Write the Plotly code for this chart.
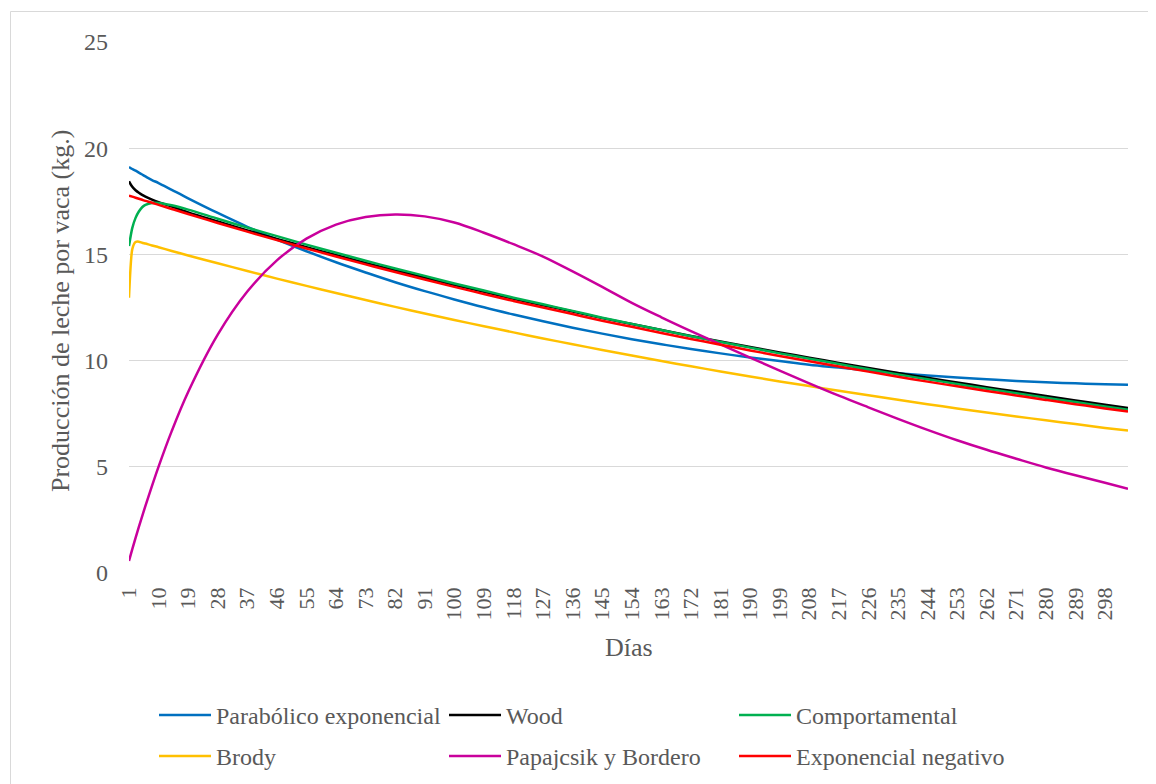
import plotly.graph_objects as go

days = [1, 2, 3, 4, 5, 6, 8, 10, 14, 19, 28, 37, 46, 55, 64, 73, 82, 91, 100, 109,
        118, 127, 136, 145, 154, 163, 172, 181, 190, 199, 208, 217, 226, 235, 244,
        253, 262, 271, 280, 289, 298, 305]

parabolico = [19.11, 19.02, 18.94, 18.85, 18.76, 18.67, 18.50, 18.36, 18.04, 17.64,
              16.95, 16.30, 15.70, 15.15, 14.63, 14.15, 13.69, 13.27, 12.88, 12.51,
              12.17, 11.85, 11.55, 11.27, 11.01, 10.77, 10.55, 10.34, 10.15, 9.98,
              9.81, 9.67, 9.53, 9.41, 9.30, 9.20, 9.12, 9.04, 8.98, 8.93, 8.89, 8.86]

wood = [18.44, 18.18, 18.02, 17.90, 17.80, 17.72, 17.58, 17.46, 17.25, 16.98,
        16.55, 16.13, 15.73, 15.34, 14.97, 14.60, 14.25, 13.90, 13.56, 13.24,
        12.91, 12.61, 12.31, 12.00, 11.72, 11.44, 11.16, 10.90, 10.64, 10.38,
        10.14, 9.89, 9.65, 9.42, 9.19, 8.97, 8.75, 8.54, 8.33, 8.12, 7.92, 7.77]

comportamental = [15.39, 16.25, 16.72, 17.02, 17.22, 17.33, 17.42, 17.42, 17.31, 17.11,
                  16.68, 16.26, 15.86, 15.46, 15.08, 14.70, 14.34, 13.99, 13.63, 13.30,
                  12.96, 12.65, 12.34, 12.02, 11.73, 11.44, 11.15, 10.88, 10.61, 10.34,
                  10.09, 9.84, 9.59, 9.35, 9.12, 8.90, 8.67, 8.46, 8.25, 8.05, 7.84, 7.69]

brody = [12.96, 15.25, 15.58, 15.60, 15.55, 15.51, 15.42, 15.34, 15.16, 14.95,
         14.58, 14.22, 13.86, 13.52, 13.18, 12.85, 12.53, 12.22, 11.91, 11.62,
         11.33, 11.04, 10.77, 10.50, 10.24, 9.98, 9.73, 9.49, 9.25, 9.02,
         8.80, 8.58, 8.37, 8.16, 7.95, 7.75, 7.56, 7.37, 7.19, 7.01, 6.83, 6.71]

papajcsik = [0.57, 1.12, 1.65, 2.17, 2.67, 3.16, 4.10, 5.01, 6.68, 8.52,
             11.22, 13.25, 14.72, 15.74, 16.40, 16.76, 16.88, 16.79, 16.50, 16.02,
             15.48, 14.90, 14.20, 13.47, 12.72, 12.04, 11.39, 10.76, 10.14, 9.53,
             8.93, 8.35, 7.80, 7.26, 6.74, 6.25, 5.80, 5.38, 4.97, 4.60, 4.25, 3.97]

exponencial = [17.77, 17.72, 17.67, 17.62, 17.57, 17.52, 17.43, 17.33, 17.14, 16.90,
               16.48, 16.07, 15.67, 15.28, 14.90, 14.53, 14.17, 13.82, 13.47, 13.14,
               12.81, 12.50, 12.19, 11.88, 11.59, 11.30, 11.02, 10.75, 10.48, 10.22,
               9.97, 9.72, 9.48, 9.24, 9.01, 8.79, 8.57, 8.36, 8.15, 7.95, 7.75, 7.60]

series_names = ["Parabólico exponencial", "Wood", "Comportamental",
                "Brody", "Papajcsik y Bordero", "Exponencial negativo"]
series_values = [parabolico, wood, comportamental, brody, papajcsik, exponencial]
series_colors = ["#0070C0", "#000000", "#00B050", "#FFC000", "#C9009C", "#FF0000"]
series_legend = ["legend", "legend", "legend", "legend2", "legend2", "legend2"]
series_smooth = [1.0, 0.8, 0.8, 0.6, 1.0, 1.0]

x_tick_vals = list(range(1, 299, 9))
y_tick_vals = [0, 5, 10, 15, 20, 25]

FONT = "Liberation Serif"
TXT = "#595959"

# page has an 8px body margin; figure coords = page coords - 8
W, H = 1140, 800
PL, PR, PT, PB = 121, 1120, 34, 565   # plot area in figure px
PW, PH = PR - PL, PB - PT


def px(xf):
    return (xf - PL) / PW


def py(yf):
    return (PB - yf) / PH


fig = go.Figure()
for name, vals, col, lg, sm in zip(series_names, series_values, series_colors,
                                    series_legend, series_smooth):
    fig.add_trace(go.Scatter(
        x=days, y=vals, name=name, mode="lines", legend=lg,
        line=dict(color=col, width=2.5, shape="spline", smoothing=sm),
    ))

legend_common = dict(
    orientation="h", xanchor="left", yanchor="top",
    font=dict(family=FONT, size=24, color=TXT),
    entrywidth=223, entrywidthmode="pixels",
    itemwidth=52, bgcolor="rgba(0,0,0,0)",
)

fig.update_layout(
    width=W, height=H,
    margin=dict(l=PL, r=W - PR, t=PT, b=H - PB),
    paper_bgcolor="white", plot_bgcolor="white",
    font=dict(family=FONT, color=TXT),
    showlegend=True,
    legend=dict(x=px(146), y=py(685), **legend_common),
    legend2=dict(x=px(146), y=py(726), **legend_common),
    xaxis=dict(
        range=[1, 305], tickmode="array", tickvals=x_tick_vals,
        ticktext=[str(v) for v in x_tick_vals],
        tickangle=-90, showgrid=False, zeroline=False,
        showline=False, ticks="", ticklabelstandoff=9,
        tickfont=dict(family=FONT, size=22, color=TXT),
    ),
    yaxis=dict(
        range=[0, 25], tickmode="array", tickvals=y_tick_vals,
        showgrid=True, gridcolor="#D9D9D9", gridwidth=1,
        zeroline=False, showline=False, ticks="", ticklabelstandoff=20,
        tickfont=dict(family=FONT, size=24, color=TXT),
    ),
    annotations=[
        dict(text="Días", xref="paper", yref="paper", x=0.5, y=py(639),
             showarrow=False, xanchor="center", yanchor="middle",
             font=dict(family=FONT, size=26, color=TXT)),
        dict(text="Producción de leche por vaca (kg.)", xref="paper", yref="paper",
             x=px(52), y=py(303), textangle=-90,
             showarrow=False, xanchor="center", yanchor="middle",
             font=dict(family=FONT, size=26, color=TXT)),
    ],
    shapes=[
        dict(type="rect", xref="paper", yref="paper",
             x0=px(2.5), x1=px(1180), y0=py(3.5), y1=py(820),
             line=dict(color="#D9D9D9", width=1), fillcolor="rgba(0,0,0,0)",
             layer="below"),
    ],
)

fig.write_html("out.html")
